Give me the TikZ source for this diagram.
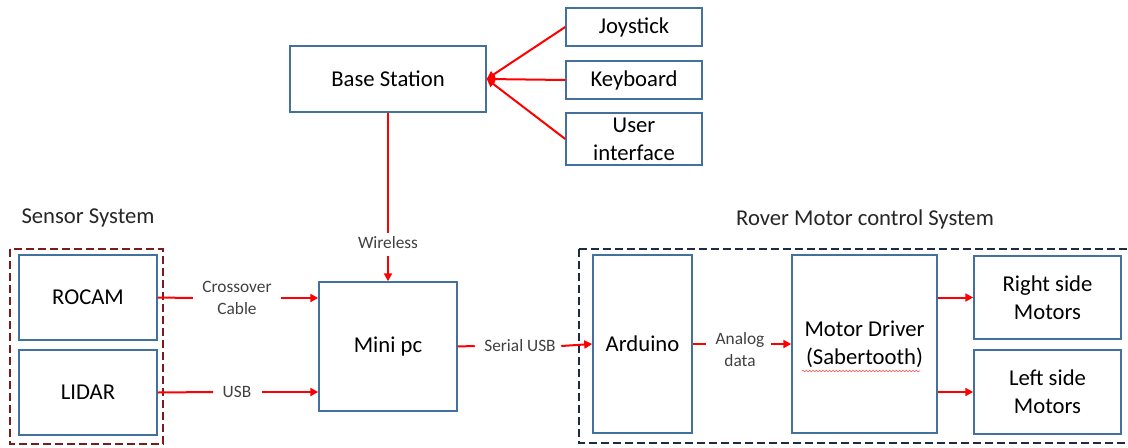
\documentclass[tikz,border=0pt]{standalone}
\usepackage{fontspec}
\setmainfont{Carlito}
\usetikzlibrary{arrows.meta,decorations.pathmorphing}
\definecolor{boxblue}{HTML}{41719C}
\definecolor{sensred}{HTML}{7B1C1C}
\definecolor{navy}{HTML}{1F2A44}
\tikzset{
  blk/.style={draw=boxblue,line width=1.1pt,fill=white,inner sep=0pt,align=center,
    font=\fontsize{17}{21}\selectfont},
  lbl/.style={inner sep=1pt,align=center,font=\fontsize{13}{16.5}\selectfont,text=black!75},
  ttl/.style={inner sep=0pt,font=\fontsize{17}{21}\selectfont,text=black!85},
  wire/.style={draw=red,line width=1.5pt},
  arr/.style={wire,-{Triangle[length=6pt,width=6pt]}},
  grp/.style={dashed,line width=1.6pt,dash pattern=on 6pt off 3pt}
}
\begin{document}
\begin{tikzpicture}[x=0.75pt,y=-0.75pt]
\useasboundingbox (0,0) rectangle (1128,447);
% groups
\draw[grp,draw=sensred] (10,249) rectangle (163,444);
\draw[grp,draw=navy] (579,249) -- (1135,249) (579,249) -- (579,443) -- (1135,443);
\node[ttl] (senst) at (88,218) {Sensor System};
\node[ttl] (rovt) at (865,219) {Rover Motor control System};
% boxes
\node[blk,minimum width=196*0.75pt,minimum height=66*0.75pt] (base) at (388,79) {Base Station};
\node[blk,minimum width=136*0.75pt,minimum height=38*0.75pt] (joy) at (634,27) {Joystick};
\node[blk,minimum width=136*0.75pt,minimum height=38*0.75pt] (key) at (634,80) {Keyboard};
\node[blk,minimum width=136*0.75pt,minimum height=52*0.75pt] (ui) at (634,139) {User\\interface};
\node[blk,minimum width=138*0.75pt,minimum height=129*0.75pt] (mini) at (388,346.5) {Mini pc};
\node[blk,minimum width=138*0.75pt,minimum height=85*0.75pt] (rocam) at (88,297.5) {ROCAM};
\node[blk,minimum width=138*0.75pt,minimum height=85*0.75pt] (lidar) at (88,392.5) {LIDAR};
\node[blk,minimum width=99*0.75pt,minimum height=178*0.75pt] (ard) at (642.5,344) {Arduino};
\node[blk,minimum width=145*0.75pt,minimum height=178*0.75pt] (drv) at (864.5,344) {Motor Driver\\(Sabertooth)};
\node[blk,minimum width=147*0.75pt,minimum height=83*0.75pt] (rm) at (1047.5,297.5) {Right side\\Motors};
\node[blk,minimum width=147*0.75pt,minimum height=84*0.75pt] (lm) at (1047.5,392) {Left side\\Motors};
% spell-check squiggle
\coordinate (sq1) at (802,371);
\coordinate (sq2) at (920,371);
\draw[red!70,line width=0.4pt,decorate,decoration={snake,amplitude=0.6pt,segment length=2.5pt}] (sq1) -- (sq2);
% labels
\node[lbl] (lwire) at (388,243) {Wireless};
\node[lbl] (lcross) at (237,298) {Crossover\\Cable};
\node[lbl] (lusb) at (237,392) {USB};
\node[lbl] (lser) at (520,346) {Serial USB};
\node[lbl] (lana) at (740,350) {Analog\\data};
% connectors
\draw[arr] (joy.west) -- (base.east);
\draw[arr] (key.west) -- (base.east);
\draw[arr] (ui.west) -- (base.east);
\draw[wire] (base.south) -- ([yshift=2pt]lwire.north);
\draw[arr] ([yshift=-4pt]lwire.south) -- (mini.north);
\draw[wire] (rocam.east) -- ([xshift=-6pt]lcross.west);
\draw[arr] ([xshift=6pt]lcross.east) -- (lcross.east -| mini.west);
\draw[wire] (lidar.east) -- ([xshift=-6pt]lusb.west);
\draw[arr] ([xshift=7pt]lusb.east) -- (lusb.east -| mini.west);
\draw[wire] (mini.east) -- ([xshift=-6pt]lser.west);
\draw[arr] ([xshift=3pt]lser.east) -- (ard.west);
\draw[wire] (ard.east) -- ([xshift=-6pt]lana.west |- ard.east);
\draw[arr] ([xshift=4pt]lana.east |- drv.west) -- (drv.west);
\draw[arr] (drv.east |- rm.west) -- (rm.west);
\draw[arr] (drv.east |- lm.west) -- (lm.west);
\end{tikzpicture}
\end{document}
